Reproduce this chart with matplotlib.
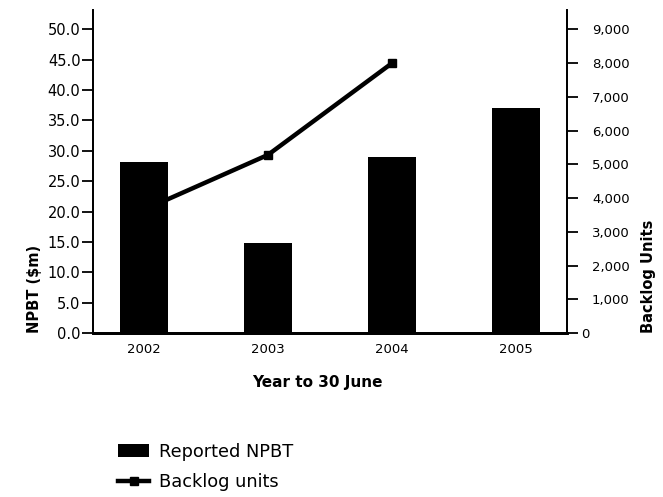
import matplotlib
matplotlib.use("Agg")
import matplotlib.pyplot as plt
from matplotlib.ticker import FuncFormatter
from matplotlib.transforms import ScaledTranslation

# data
years = ["2002", "2003", "2004", "2005"]
npbt = [28.1, 14.9, 29.0, 37.0]          # $m, left axis
backlog_years = [0, 1, 2]                 # 2002..2004
backlog = [3650, 5280, 8000]              # units, right axis

fig = plt.figure(figsize=(6.63, 4.97), dpi=100)
ax = fig.add_axes([0.1403, 0.330, 0.7149, 0.650])
ax2 = ax.twinx()

x = list(range(len(years)))
ax.bar(x, npbt, width=0.39, color="black", label="Reported NPBT", zorder=3)
ax2.plot(backlog_years, backlog, color="black", lw=3.2, marker="s", ms=6,
         label="Backlog units")

# bars over the line
ax.set_zorder(ax2.get_zorder() + 1)
ax.patch.set_visible(False)

ax.set_xlim(-0.41, 3.41)
ax.set_ylim(0, 53.2)
ax2.set_ylim(0, 53.2 * 180)

ax.set_yticks([i * 5 for i in range(11)])
ax.yaxis.set_major_formatter(FuncFormatter(lambda v, p: f"{v:.1f}"))
ax2.set_yticks([i * 1000 for i in range(10)])
ax2.yaxis.set_major_formatter(FuncFormatter(lambda v, p: f"{int(v):,}"))

ax.set_xticks(x)
ax.set_xticklabels(years)

for a in (ax, ax2):
    a.spines["top"].set_visible(False)
    a.spines["left"].set_linewidth(1.3)
    a.spines["right"].set_linewidth(1.3)
    a.spines["bottom"].set_linewidth(2)

ax.tick_params(axis="y", direction="out", length=8, width=1.3, pad=1,
               labelsize=10.5)
ax2.tick_params(axis="y", direction="out", length=8, width=1.3, pad=10,
                labelsize=9.5)
ax.tick_params(axis="x", length=0, pad=7, labelsize=9.5)

# the "0" on the right sits a bit left of the others
zero_lbl = ax2.yaxis.get_major_ticks()[0].label2
zero_lbl.set_transform(zero_lbl.get_transform()
                       + ScaledTranslation(-8 / 72, 0, fig.dpi_scale_trans))

ax.set_ylabel("NPBT ($m)", fontsize=10.5, fontweight="bold", loc="bottom",
              labelpad=4)
ax2.set_ylabel("Backlog Units", fontsize=10.5, fontweight="bold", loc="bottom",
               labelpad=8)
ax.set_xlabel("Year to 30 June", fontsize=11, fontweight="bold", labelpad=14)
ax.xaxis.label.set_x(0.473)

h1, l1 = ax.get_legend_handles_labels()
h2, l2 = ax2.get_legend_handles_labels()
fig.legend(h1 + h2, l1 + l2, loc="upper left", bbox_to_anchor=(0.178, 0.109),
           frameon=False, fontsize=12.8, handlelength=1.75, handletextpad=0.55,
           labelspacing=0.7, borderpad=0, borderaxespad=0)

fig.savefig("out.png", dpi=100)
